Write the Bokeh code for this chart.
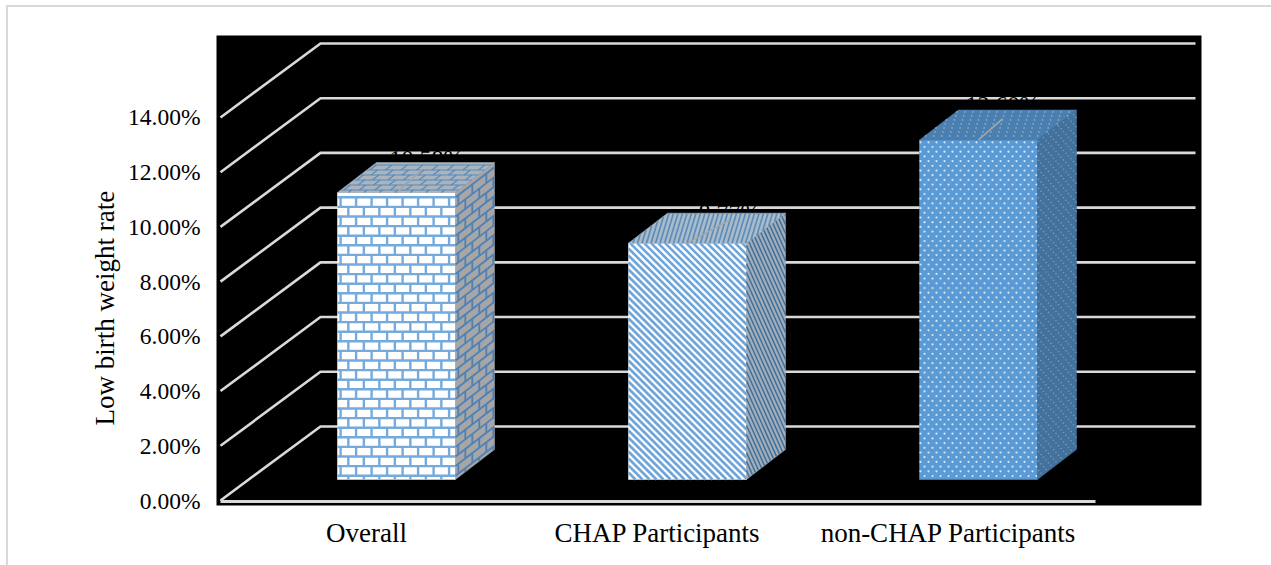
from bokeh.plotting import figure
from bokeh.embed import file_html
from bokeh.resources import INLINE
from bokeh.models import FixedTicker, Range1d, Title
from bokeh.core.properties import value

# ---- data ----
categories = ["Overall", "CHAP Participants", "non-CHAP Participants"]
rates = [10.65, 8.77, 12.60]
rate_labels = ["10.58%", "8.77%", "12.60%"]
tick_values = [0, 2, 4, 6, 8, 10, 12, 14]
tick_labels = ["0.00%", "2.00%", "4.00%", "6.00%", "8.00%", "10.00%", "12.00%", "14.00%"]
y_title = "Low birth weight rate"

# ---- geometry ----
FONT = "Liberation Serif"
FL, FR, FT, FB = 216, 1201, 35, 505       # frame in page px
PX_PER_PCT = 27.36
CAT_PX = 291.0
X0_PX = 366.0                             # px of category 0
Y0_PX = 500.0                             # px of 0%

def dx(px): return px / CAT_PX
def dy(px): return px / PX_PER_PCT
def X(px): return (px - X0_PX) / CAT_PX
def Y(px): return (Y0_PX - px) / PX_PER_PCT

p = figure(width=1271, height=565, output_backend="svg", toolbar_location=None,
           x_range=Range1d(X(FL), X(FR)), y_range=Range1d(Y(FB), Y(FT)),
           background_fill_color="black", border_fill_color=None,
           min_border_left=FL, min_border_top=FT,
           min_border_right=1271 - FR, min_border_bottom=565 - FB)
p.frame_width = FR - FL
p.frame_height = FB - FT
p.outline_line_color = None
p.grid.visible = False

# page frame lines behind the transparent canvas
BORDER = "#d9d9d9"
grad = f"linear-gradient({BORDER},{BORDER})"
p.styles = {"background": f"{grad} 6px 5px / 2px 100% no-repeat, {grad} 6px 5px / 100% 2px no-repeat, #ffffff"}

# axes
p.yaxis.ticker = FixedTicker(ticks=tick_values)
p.yaxis.major_label_overrides = {t: l for t, l in zip(tick_values, tick_labels)}
p.xaxis.ticker = FixedTicker(ticks=list(range(len(categories))))
p.xaxis.major_label_overrides = {i: c for i, c in enumerate(categories)}
for ax in (p.xaxis, p.yaxis):
    ax.axis_line_color = None
    ax.major_tick_line_color = None
    ax.minor_tick_line_color = None
    ax.major_label_text_font = FONT
    ax.major_label_text_color = "#000000"
p.yaxis.major_label_text_font_size = "23.5px"
p.yaxis.major_label_standoff = 10
p.xaxis.major_label_text_font_size = "27px"
p.xaxis.major_label_standoff = 6
p.add_layout(Title(text=y_title, align="left", offset=80, standoff=11,
                   text_font=FONT, text_font_size="27px", text_font_style="normal",
                   text_color="#000000"), "left")

# 3D grid: front edge - back edge - right end
GRID = "#d9d9d9"
gx, gy = [], []
for t in tick_values:
    gx.append([X(220), X(320), X(1195)])
    gy.append([t, t + dy(74), t + dy(74)])
p.multi_line(gx, gy, line_color=GRID, line_width=2.6)
p.line([X(220), X(1095)], [Y(501), Y(501)], line_color=GRID, line_width=3)

# labels: black text, only seen where it crosses the gridlines
LABEL_DX = [30, 42, 24]   # px right of the bar centre
LABEL_BASE = [157, 211, 103]
for i, lab in enumerate(rate_labels):
    p.text([i + dx(30 + LABEL_DX[i])], [Y(LABEL_BASE[i])], text=[lab], text_color="black",
           text_font=value(FONT), text_font_size="24px", text_align="center",
           text_baseline="alphabetic")

# bars
BAR_W, DEPTH_X, DEPTH_Y = 118.0, 39.0, 30.0
BASE_PX = 479.0
K = 0.985
BAR_OFFSET = 30.0    # bar centre is right of the category tick

def clip(x1, y1, x2, y2, w, h):
    t0, t1 = 0.0, 1.0
    ddx, ddy = x2 - x1, y2 - y1
    for q, r in ((-ddx, x1), (ddx, w - x1), (-ddy, y1), (ddy, h - y1)):
        if q == 0:
            if r < 0:
                return None
        else:
            t = r / q
            if q < 0:
                t0 = max(t0, t)
            else:
                t1 = min(t1, t)
    if t0 >= t1:
        return None
    return x1 + t0 * ddx, y1 + t0 * ddy, x1 + t1 * ddx, y1 + t1 * ddy

def frange(a, b, s):
    out = []
    while a < b:
        out.append(a)
        a += s
    return out

def bricks(w, h, row, brick):
    segs = []
    for j, yy in enumerate(frange(row / 2, h, row)):
        segs.append((0, yy, w, yy))
        nxt = min(yy + row, h)
        for xx in frange((j % 2) * brick / 2 + brick * 0.2, w, brick):
            segs.append((xx, yy, xx, nxt))
    return segs

def stripes(w, h, period):
    segs = []
    for c in frange(-h, w + h, period):
        s = clip(c, 0, c + h + w, h + w, w, h)
        if s:
            segs.append(s)
    return segs

def dots(w, h, sx, sy):
    pts = []
    for j, yy in enumerate(frange(sy / 2, h, sy)):
        for xx in frange((j % 2) * sx / 2 + 1, w, sx):
            pts.append((xx, yy))
    return pts

def draw_face(corners, fill, to_screen, segs=None, seg_color=None, seg_w=1.0, pts=None, pt_color=None, pt_size=2):
    p.patch([X(c[0]) for c in corners], [Y(c[1]) for c in corners], fill_color=fill, line_color=fill, line_width=0.5)
    if segs:
        xs, ys = [], []
        for a, b, c, d in segs:
            s1, s2 = to_screen(a, b), to_screen(c, d)
            xs.append([X(s1[0]), X(s2[0])])
            ys.append([Y(s1[1]), Y(s2[1])])
        p.multi_line(xs, ys, line_color=seg_color, line_width=seg_w)
    if pts:
        s = [to_screen(a, b) for a, b in pts]
        p.scatter([X(q[0]) for q in s], [Y(q[1]) for q in s], size=pt_size, color=pt_color, line_color=None, marker="circle")

for i, r in enumerate(rates):
    cx = X0_PX + i * CAT_PX + BAR_OFFSET
    left = cx - BAR_W / 2
    right = cx + BAR_W / 2
    top = BASE_PX - (r * K * PX_PER_PCT)
    H = BASE_PX - top
    front = [(left, top), (right, top), (right, BASE_PX), (left, BASE_PX)]
    side = [(right, top), (right + DEPTH_X, top - DEPTH_Y), (right + DEPTH_X, BASE_PX - DEPTH_Y), (right, BASE_PX)]
    topf = [(left, top), (right, top), (right + DEPTH_X, top - DEPTH_Y), (left + DEPTH_X, top - DEPTH_Y)]

    f_map = lambda u, v, l=left, t=top: (l + u, t + v)
    s_map = lambda u, v, rr=right, t=top: (rr + u, t + v - u * DEPTH_Y / DEPTH_X)
    s_map3 = lambda u, v, rr=right, t=top: (rr + u / 3.0, t + v - (u / 3.0) * DEPTH_Y / DEPTH_X)
    t_map = lambda u, v, l=left, t=top: (l + u + (DEPTH_Y - v) * DEPTH_X / DEPTH_Y, t - DEPTH_Y + v)

    if i == 0:
        draw_face(front, "#ffffff", f_map, bricks(BAR_W, H, 9.6, 15.5), "#74aadc", 2.4)
        draw_face(side, "#a6a6a6", s_map, bricks(DEPTH_X, H, 9.6, 14.0), "#4f81b5", 1.8)
        draw_face(topf, "#a9b4bf", t_map, bricks(BAR_W, DEPTH_Y, 5.0, 15.5), "#5a8ab8", 1.2)
    elif i == 1:
        draw_face(front, "#ffffff", f_map, stripes(BAR_W, H, 7.0), "#6ea6dc", 2.6)
        draw_face(side, "#a3aeb9", s_map3, stripes(BAR_W, H, 9.0), "#3f6f9c", 1.5)
        draw_face(topf, "#a9bccc", t_map, stripes(BAR_W, DEPTH_Y, 4.5), "#5f8db8", 1.7)
    else:
        draw_face(front, "#5b9bd5", f_map, pts=dots(BAR_W, H, 8.0, 4.7), pt_color="#d6e6f5", pt_size=2.2)
        draw_face(side, "#41719c", s_map, pts=dots(DEPTH_X, H, 5.0, 4.7), pt_color="#7c9ab5", pt_size=1.6)
        draw_face(topf, "#4a7fb0", t_map, pts=dots(BAR_W, DEPTH_Y, 8.0, 4.0), pt_color="#88abc9", pt_size=1.8)

    # leader line
    ends = [(26, 23), (42, 23), (24, 21)]
    p.line([X(cx), X(cx + ends[i][0])], [Y(top), Y(top - ends[i][1])], line_color="#a6a6a6", line_width=1.6)

open("out.html", "w").write(file_html(p, INLINE))
